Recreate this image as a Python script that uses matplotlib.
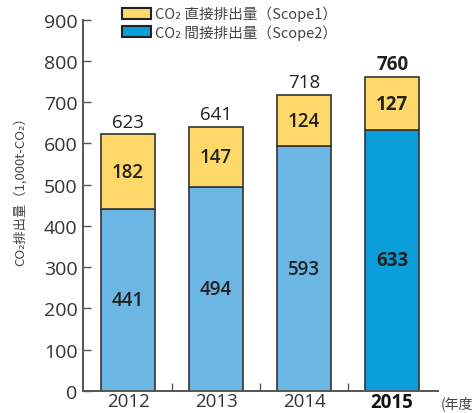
import matplotlib
matplotlib.use("Agg")
import matplotlib.pyplot as plt
from matplotlib.patches import Patch

plt.rcParams['font.family'] = ['Open Sans', 'Noto Sans CJK JP', 'DejaVu Sans']

years = ['2012', '2013', '2014', '2015']
scope2 = [441, 494, 593, 633]
scope1 = [182, 147, 124, 127]
totals = [623, 641, 718, 760]
yticks = [0, 100, 200, 300, 400, 500, 600, 700, 800, 900]
legend_labels = ['CO₂ 直接排出量（Scope1）', 'CO₂ 間接排出量（Scope2）']
ylabel = 'CO₂排出量（1,000t-CO₂）'

c_blue = '#6cb6e3'
c_blue_hl = '#0a9fda'
c_yellow = '#fed96a'
edge = '#333333'
txt = '#333333'

fig = plt.figure(figsize=(4.73, 4.14), dpi=100)
ax = fig.add_axes([83/473, 22/414, (438-83)/473, (392-20.7)/414])

x = list(range(len(years)))
w = 0.61
for i in x:
    hl = i == len(years) - 1
    bc = c_blue_hl if hl else c_blue
    ax.bar(i, scope2[i], width=w, color=bc, edgecolor=edge, linewidth=1.2, zorder=2)
    ax.bar(i, scope1[i], bottom=scope2[i], width=w, color=c_yellow, edgecolor=edge, linewidth=1.2, zorder=2)
    fw = 'bold' if hl else 'semibold'
    ax.text(i, scope2[i] / 2, str(scope2[i]), ha='center', va='center', fontsize=13.5, color='#222222', fontweight=fw)
    ax.text(i, scope2[i] + scope1[i] / 2, str(scope1[i]), ha='center', va='center', fontsize=13.5, color='#222222', fontweight=fw)
    ax.text(i, totals[i] + 8, str(totals[i]), ha='center', va='bottom', fontsize=13.5, color='#222222',
            fontweight='bold' if hl else 'normal')

ax.set_xlim(-0.511, 3.52)
ax.set_ylim(0, 900)
ax.set_yticks(yticks)
ax.set_yticklabels([str(v) for v in yticks], fontsize=14, color=txt)
ax.set_xticks(x)
ax.set_xticklabels(years, fontsize=13.5, color=txt)
ax.get_xticklabels()[-1].set_fontweight('bold')
ax.get_xticklabels()[-1].set_color('#111111')
ax.tick_params(axis='x', length=0, pad=1)
ax.set_xticks([0.5, 1.5, 2.5], minor=True)
ax.tick_params(axis='x', which='minor', direction='in', length=6, width=1, color='#555555')
ax.tick_params(axis='y', direction='in', length=6, width=1, color='#555555', pad=4)
for s in ['top', 'right']:
    ax.spines[s].set_visible(False)
for s in ['left', 'bottom']:
    ax.spines[s].set_color('#555555')
    ax.spines[s].set_linewidth(1.4)

fig.text(20/473, 1 - 188/414, ylabel, rotation=90, ha='center', va='center', fontsize=9.5, color='#444444',
         family=['Noto Sans CJK JP', 'DejaVu Sans'])
fig.text(441/473, 1 - 404/414, '(年度)', ha='left', va='center', fontsize=10, color='#444444',
         family=['Noto Sans CJK JP', 'DejaVu Sans'])

handles = [Patch(facecolor=c_yellow, edgecolor='#222222', linewidth=1.5),
           Patch(facecolor=c_blue_hl, edgecolor='#222222', linewidth=1.5)]
leg = fig.legend(handles, legend_labels, loc='upper left', bbox_to_anchor=(116/473, 1 - 1/414),
                 frameon=False, handlelength=2.0, handleheight=0.8, handletextpad=0.3,
                 labelspacing=0.2, borderaxespad=0, prop={'family': ['Noto Sans CJK JP', 'DejaVu Sans'], 'size': 10.5})
for t in leg.get_texts():
    t.set_color('#444444')

fig.savefig('out.png', dpi=100)
